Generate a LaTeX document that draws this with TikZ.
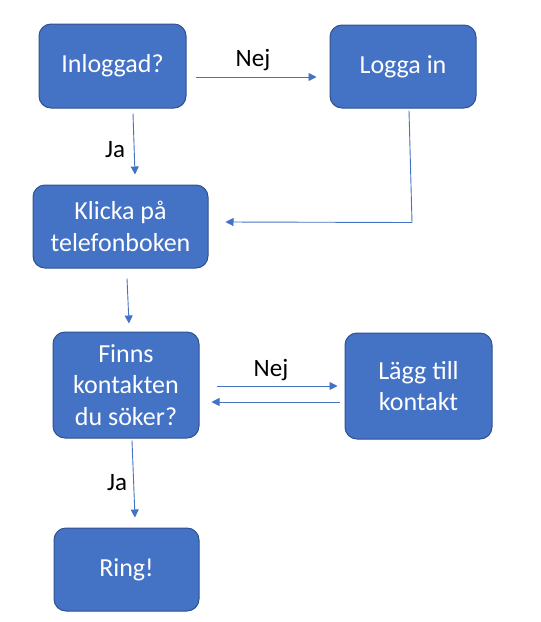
\documentclass[tikz,border=0pt]{standalone}
\usepackage{fontspec}
\setmainfont{Carlito}
\usetikzlibrary{arrows.meta,calc}
\definecolor{boxfill}{HTML}{4472C4}
\definecolor{boxline}{HTML}{2F528F}
\definecolor{arrcol}{HTML}{4472C4}
\tikzset{
  stepbox/.style={draw=boxline, line width=1pt, fill=boxfill, rounded corners=12pt,
    text=white, align=center, font=\fontsize{26}{31.5}\selectfont, inner sep=0pt},
  arr/.style={draw=arrcol, line width=0.9pt, -{Triangle[length=8pt,width=8pt]}},
  lbl/.style={font=\fontsize{25}{28}\selectfont, text=black, inner sep=0pt}
}
\begin{document}
\begin{tikzpicture}[x=1pt,y=-1pt]
\useasboundingbox (0,0) rectangle (541,622);
\node[stepbox, minimum width=147pt, minimum height=84pt] (in) at (112.5,66) {Inloggad?};
\node[stepbox, minimum width=146pt, minimum height=83pt] (login) at (403,66.5) {Logga in};
\node[stepbox, minimum width=175pt, minimum height=83pt] (klicka) at (120.5,226.5) {Klicka på\\telefonboken};
\node[stepbox, minimum width=146pt, minimum height=106pt] (finns) at (126,385) {Finns\\kontakten\\du söker?};
\node[stepbox, minimum width=147pt, minimum height=106pt] (lagg) at (418.5,386) {Lägg till\\kontakt};
\node[stepbox, minimum width=145pt, minimum height=83pt] (ring) at (126.5,569.5) {Ring!};

\draw[arr] ([shift={(9,11)}]in.east) -- ([shift={(-13,10.5)}]login.west);
\draw[arr] ([shift={(20.5,5)}]in.south) -- ([shift={(14.5,-10)}]klicka.north);
\draw[arr] ([shift={(6,2)}]login.south) -- ++(3,112) -- ([shift={(17,-4.5)}]klicka.east);
\draw[arr] ([shift={(6.5,10)}]klicka.south) -- ([shift={(3,-8)}]finns.north);
\draw[arr] ([shift={(17,1)}]finns.east) -- ([shift={(-7,0)}]lagg.west);
\draw[arr] ([shift={(-5,16)}]lagg.west) -- ([shift={(12,17)}]finns.east);
\draw[arr] ([shift={(6,2)}]finns.south) -- ([shift={(8.5,-10)}]ring.north);

\node[lbl] (nej1) at (253,60) {Nej};
\node[lbl] (ja1) at (115,150) {Ja};
\node[lbl] (nej2) at (271,370) {Nej};
\node[lbl] (ja2) at (117,483) {Ja};
\end{tikzpicture}
\end{document}
